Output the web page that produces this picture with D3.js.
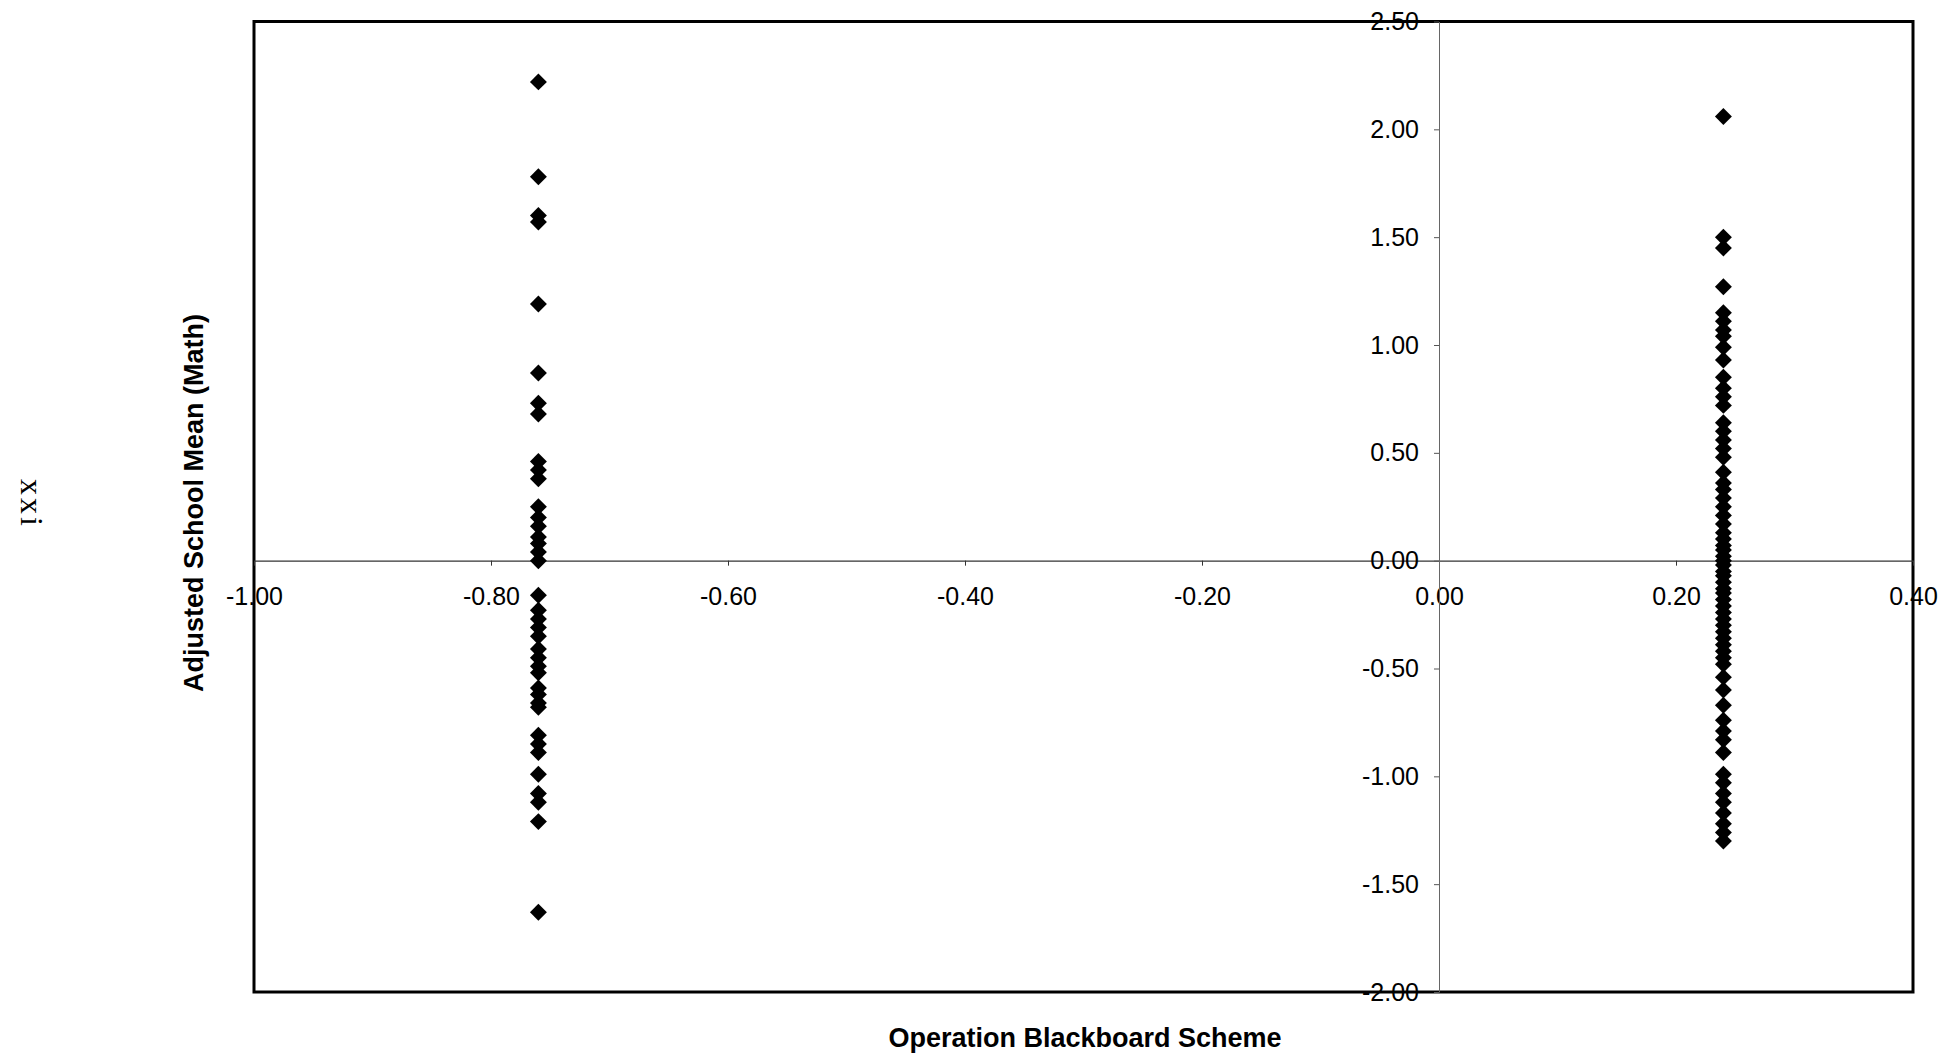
<!DOCTYPE html>
<html>
<head>
<meta charset="utf-8">
<script src="https://cdn.jsdelivr.net/npm/d3@7"></script>
<style>
  html, body { margin: 0; padding: 0; background: #fff; }
  svg { display: block; }
</style>
</head>
<body>
<svg id="chart" width="1954" height="1064"></svg>
<script>
// ---- Data ----
const schemeX = [-0.76, 0.24];            // centred dummy: not in scheme / in scheme
const notInSchemeMeans = [
  2.22, 1.78, 1.60, 1.57, 1.19, 0.87, 0.73, 0.68, 0.46, 0.42, 0.38,
  0.25, 0.20, 0.16, 0.11, 0.08, 0.04, 0.00,
  -0.16, -0.23, -0.27, -0.31, -0.35, -0.41, -0.45, -0.49, -0.52,
  -0.59, -0.62, -0.66, -0.68, -0.81, -0.85, -0.89,
  -0.99, -1.08, -1.12, -1.21, -1.63
];
const inSchemeMeans = [
  2.06, 1.50, 1.45, 1.27, 1.15, 1.11, 1.07, 1.04, 0.99, 0.93,
  0.85, 0.80, 0.76, 0.72, 0.64, 0.60, 0.56, 0.52, 0.48,
  0.41, 0.36, 0.33, 0.29, 0.25, 0.21, 0.17,
  0.13, 0.10, 0.07, 0.05, 0.02, 0.00, -0.02, -0.05, -0.07, -0.10,
  -0.13, -0.15, -0.18, -0.21, -0.24, -0.27, -0.30, -0.33, -0.36, -0.39,
  -0.42, -0.45, -0.48, -0.54, -0.60, -0.67,
  -0.74, -0.79, -0.83, -0.89,
  -0.99, -1.03, -1.08, -1.12, -1.17, -1.22, -1.26, -1.30
];
const xTicks = [-1.0, -0.8, -0.6, -0.4, -0.2, 0.0, 0.2, 0.4];
const yTicks = [-2.0, -1.5, -1.0, -0.5, 0.0, 0.5, 1.0, 1.5, 2.0, 2.5];
const xTitle = "Operation Blackboard Scheme";
const yTitle = "Adjusted School Mean (Math)";
const pageNumber = "xxi";

// ---- Layout ----
const svg = d3.select("#chart");
const frame = { left: 254, right: 1913, top: 21.5, bottom: 992 };
const x = d3.scaleLinear().domain([-1, 0.4]).range([frame.left, frame.right]);
const y = d3.scaleLinear().domain([-2, 2.5]).range([frame.bottom, frame.top]);
const fmt = d => d.toFixed(2);

// plot frame
svg.append("rect")
  .attr("x", frame.left).attr("y", frame.top)
  .attr("width", frame.right - frame.left).attr("height", frame.bottom - frame.top)
  .attr("fill", "#fff").attr("stroke", "#000").attr("stroke-width", 3);

// x axis through y = 0
const gx = svg.append("g")
  .attr("transform", `translate(0,${y(0)})`)
  .call(d3.axisBottom(x).tickValues(xTicks).tickFormat(fmt)
        .tickSize(5).tickSizeOuter(0).tickPadding(22));
gx.select(".domain").attr("stroke", "#333").attr("stroke-width", 1.2);
gx.selectAll(".tick line").attr("stroke", "#333");
gx.selectAll(".tick text")
  .attr("font-family", "'Liberation Sans', Arial, sans-serif")
  .attr("font-size", 25).attr("fill", "#000");

// y axis through x = 0
const gy = svg.append("g")
  .attr("transform", `translate(${x(0)},0)`)
  .call(d3.axisLeft(y).tickValues(yTicks).tickFormat(fmt)
        .tickSize(5).tickSizeOuter(0).tickPadding(15));
gy.select(".domain").attr("stroke", "#666").attr("stroke-width", 1);
gy.selectAll(".tick line").attr("stroke", "#555");
gy.selectAll(".tick text")
  .attr("font-family", "'Liberation Sans', Arial, sans-serif")
  .attr("font-size", 25).attr("fill", "#000");

// points
const pts = [
  ...notInSchemeMeans.map(v => ({ x: schemeX[0], y: v })),
  ...inSchemeMeans.map(v => ({ x: schemeX[1], y: v }))
];
const diamond = d3.symbol().type(d3.symbolSquare).size(144);
svg.append("g").selectAll("path").data(pts).join("path")
  .attr("d", diamond)
  .attr("transform", d => `translate(${x(d.x)},${y(d.y)}) rotate(45)`)
  .attr("fill", "#000");

// axis titles
svg.append("text")
  .attr("x", 1085).attr("y", 1047)
  .attr("text-anchor", "middle")
  .attr("font-family", "'Liberation Sans', Arial, sans-serif")
  .attr("font-weight", "bold").attr("font-size", 27)
  .text(xTitle);

svg.append("text")
  .attr("transform", "translate(203,503) rotate(-90)")
  .attr("text-anchor", "middle")
  .attr("font-family", "'Liberation Sans', Arial, sans-serif")
  .attr("font-weight", "bold").attr("font-size", 27)
  .text(yTitle);

// scanned page number at the left margin
svg.append("text")
  .attr("transform", "translate(21,504) rotate(90)")
  .attr("text-anchor", "middle")
  .attr("font-family", "'Liberation Serif', 'Times New Roman', serif")
  .attr("font-size", 32).attr("letter-spacing", 3)
  .text(pageNumber);
</script>
</body>
</html>
